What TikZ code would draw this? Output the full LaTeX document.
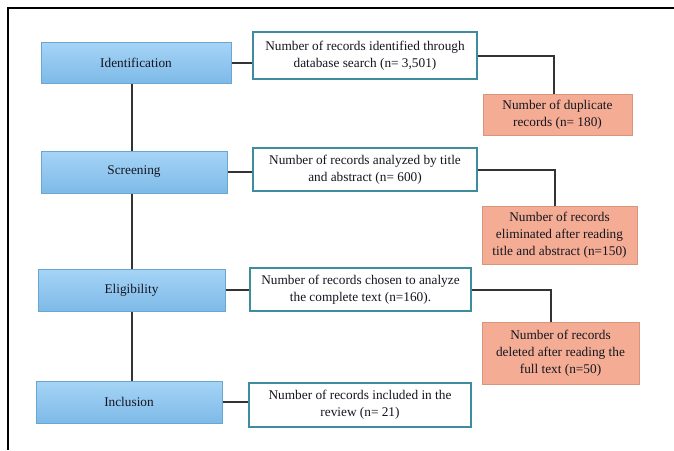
\documentclass[tikz,border=0pt]{standalone}
\usepackage{fontspec}
\setmainfont{Liberation Serif}
\definecolor{bluetop}{HTML}{A6D4F6}
\definecolor{bluebot}{HTML}{7DBAE8}
\definecolor{blueedge}{HTML}{6AA6D2}
\definecolor{tealedge}{HTML}{3F8C9F}
\definecolor{redfill}{HTML}{F4AD94}
\definecolor{rededge}{HTML}{D8957C}
\definecolor{linecol}{HTML}{333333}
\definecolor{txt}{HTML}{151520}
\tikzset{
  stagebox/.style={draw=blueedge, line width=1pt, top color=bluetop, bottom color=bluebot, inner sep=0pt, font=\fontsize{13.3}{17}\selectfont, text=txt},
  recbox/.style={draw=tealedge, line width=1.6pt, fill=white, inner sep=0pt, align=center, font=\fontsize{13.3}{17}\selectfont, text=txt},
  exbox/.style={draw=rededge, line width=1pt, fill=redfill, inner sep=0pt, align=center, font=\fontsize{13.3}{17}\selectfont, text=txt},
  conn/.style={draw=linecol, line width=2pt},
}
\begin{document}
\begin{tikzpicture}[x=1pt,y=-1pt]
\useasboundingbox (0,0) rectangle (674,450);
\fill[white] (0,0) rectangle (674,450);
\draw[line width=2pt, black] (8,450) -- (8,8) -- (674,8);

\node[stagebox, minimum width=190pt, minimum height=41pt] (ident) at (136,62.5) {Identification};
\node[recbox, minimum width=224pt, minimum height=47pt] (w1) at (365,55.5) {Number of records identified through\\database search (n= 3,501)};
\node[exbox, minimum width=149pt, minimum height=41pt] (r1) at (557.5,114.5) {Number of duplicate\\records (n= 180)};

\node[stagebox, minimum width=186pt, minimum height=42pt] (screen) at (134,172) {Screening};
\node[recbox, minimum width=224pt, minimum height=43pt] (w2) at (365,169.5) {Number of records analyzed by title\\and abstract (n= 600)};
\node[exbox, minimum width=155pt, minimum height=58pt] (r2) at (559.5,235) {Number of records\\eliminated after reading\\title and abstract (n=150)};

\node[stagebox, minimum width=187pt, minimum height=42pt] (elig) at (131.5,290) {Eligibility};
\node[recbox, minimum width=221pt, minimum height=43pt] (w3) at (360.5,289.5) {Number of records chosen to analyze\\the complete text (n=160).};
\node[exbox, minimum width=157pt, minimum height=62pt] (r3) at (560.5,353) {Number of records\\deleted after reading the\\full text (n=50)};

\node[stagebox, minimum width=186pt, minimum height=42pt] (incl) at (129,402) {Inclusion};
\node[recbox, minimum width=222pt, minimum height=44pt] (w4) at (360,405) {Number of records included in the\\review (n= 21)};

\coordinate (vl) at (132,0);
\coordinate (c1) at (554,0);
\coordinate (c2) at (555,0);
\coordinate (c3) at (550.5,0);

\draw[conn] (ident.south -| vl) -- (screen.north -| vl);
\draw[conn] (screen.south -| vl) -- (elig.north -| vl);
\draw[conn] (elig.south -| vl) -- (incl.north -| vl);

\draw[conn] (ident.east) -- (ident.east -| w1.west);
\draw[conn] (screen.east) -- (screen.east -| w2.west);
\draw[conn] (elig.east) -- (elig.east -| w3.west);
\draw[conn] (incl.east) -- (incl.east -| w4.west);

\draw[conn] (w1.east) -| (r1.north -| c1);
\draw[conn] (w2.east) -| (r2.north -| c2);
\draw[conn] (w3.east) -| (r3.north -| c3);
\end{tikzpicture}
\end{document}
